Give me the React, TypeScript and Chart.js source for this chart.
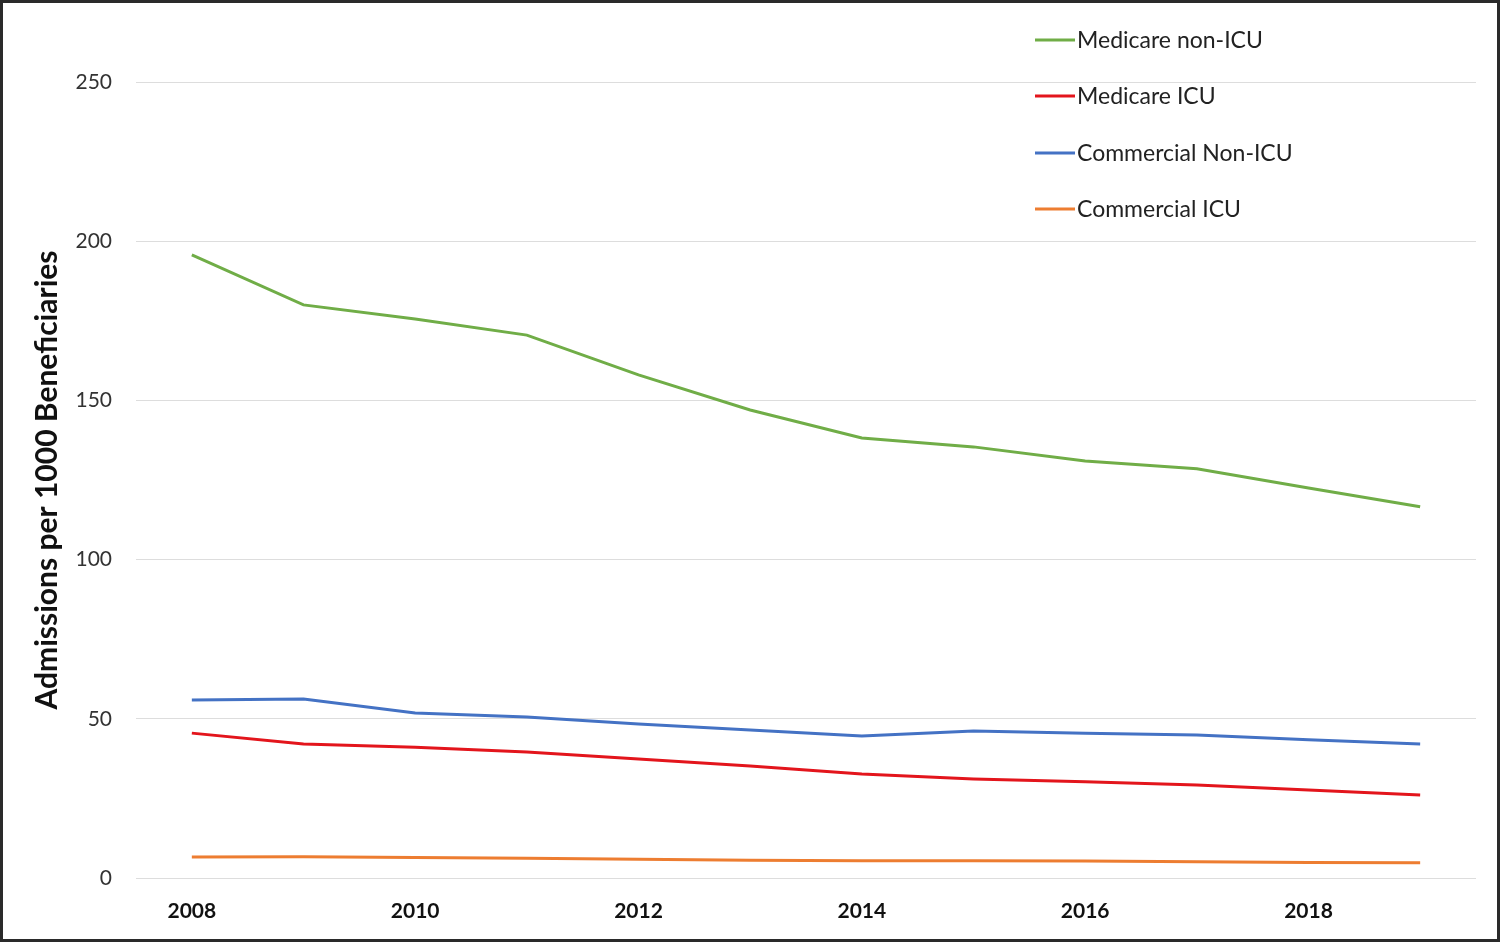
import React, { useEffect, useRef } from "react";
import { Chart, registerables } from "chart.js";

Chart.register(...registerables);

const years = ["2008", "2009", "2010", "2011", "2012", "2013", "2014", "2015", "2016", "2017", "2018", "2019"];
const medicareNonICU = [195.7, 180.0, 175.6, 170.5, 158.0, 147.0, 138.2, 135.4, 131.0, 128.5, 122.5, 116.6];
const medicareICU = [45.5, 42.1, 41.1, 39.6, 37.4, 35.2, 32.7, 31.1, 30.2, 29.2, 27.6, 26.1];
const commercialNonICU = [55.9, 56.2, 51.8, 50.6, 48.4, 46.5, 44.6, 46.2, 45.5, 44.9, 43.4, 42.1];
const commercialICU = [6.6, 6.7, 6.4, 6.2, 5.9, 5.6, 5.4, 5.4, 5.3, 5.1, 4.9, 4.8];
const seriesLabels = ["Medicare non-ICU", "Medicare ICU", "Commercial Non-ICU", "Commercial ICU"];
const seriesColors = ["#70AD47", "#E3151C", "#4472C4", "#ED7D31"];
const yTitle = "Admissions per 1000 Beneficiaries";

const FONT = "Lato, 'Open Sans', sans-serif";

const legendPlugin = {
  id: "customLegend",
  afterDraw(chart: any) {
    const ctx = chart.ctx;
    const x0 = 1032;
    const lineLen = 40;
    const ys = [37, 93, 150, 206];
    ctx.save();
    ctx.font = `23px ${FONT}`;
    ctx.textBaseline = "middle";
    ctx.textAlign = "left";
    chart.data.datasets.forEach((ds: any, i: number) => {
      const y = ys[i];
      ctx.strokeStyle = ds.borderColor;
      ctx.lineWidth = 3;
      ctx.beginPath();
      ctx.moveTo(x0, y);
      ctx.lineTo(x0 + lineLen, y);
      ctx.stroke();
      ctx.fillStyle = "#222222";
      ctx.fillText(ds.label, x0 + lineLen + 2, y + 1);
    });
    ctx.restore();
  },
};

export default function App() {
  const ref = useRef<HTMLCanvasElement | null>(null);

  useEffect(() => {
    document.body.style.margin = "0";
    if (!ref.current) return;
    const data = [medicareNonICU, medicareICU, commercialNonICU, commercialICU];
    const chart = new Chart(ref.current, {
      type: "line",
      data: {
        labels: years,
        datasets: data.map((d, i) => ({
          label: seriesLabels[i],
          data: d,
          borderColor: seriesColors[i],
          backgroundColor: seriesColors[i],
          borderWidth: 3,
          pointRadius: 0,
          tension: 0,
          fill: false,
        })),
      },
      options: {
        animation: false,
        responsive: false,
        maintainAspectRatio: false,
        layout: { padding: { top: 79, right: 21, left: 0, bottom: 0 } },
        plugins: {
          legend: { display: false },
          tooltip: { enabled: false },
        },
        scales: {
          x: {
            offset: true,
            grid: { display: false, drawTicks: false },
            border: { display: false },
            ticks: {
              autoSkip: false,
              maxRotation: 0,
              padding: 21,
              color: "#111111",
              font: { family: FONT, size: 21, weight: "bold" },
              callback: function (_v: any, index: number) {
                return index % 2 === 0 ? years[index] : "";
              },
            },
            afterFit(scale: any) {
              scale.height = 61;
            },
          },
          y: {
            min: 0,
            max: 250,
            grid: { color: "#DDDDDD", lineWidth: 1, drawTicks: false },
            border: { display: false },
            ticks: {
              stepSize: 50,
              padding: 24,
              color: "#333333",
              font: { family: FONT, size: 21 },
            },
            title: {
              display: true,
              text: yTitle,
              color: "#111111",
              font: { family: FONT, size: 30, weight: "bold" },
              padding: { top: 26, bottom: 0 },
            },
            afterFit(scale: any) {
              scale.width = 133;
            },
          },
        },
      },
      plugins: [legendPlugin],
    });
    return () => chart.destroy();
  }, []);

  return (
    <div
      style={{
        width: 1500,
        height: 942,
        boxSizing: "border-box",
        border: "3px solid #2a2a2a",
        background: "#ffffff",
        overflow: "hidden",
      }}
    >
      <canvas ref={ref} width={1494} height={936} style={{ display: "block", width: 1494, height: 936 }} />
    </div>
  );
}
